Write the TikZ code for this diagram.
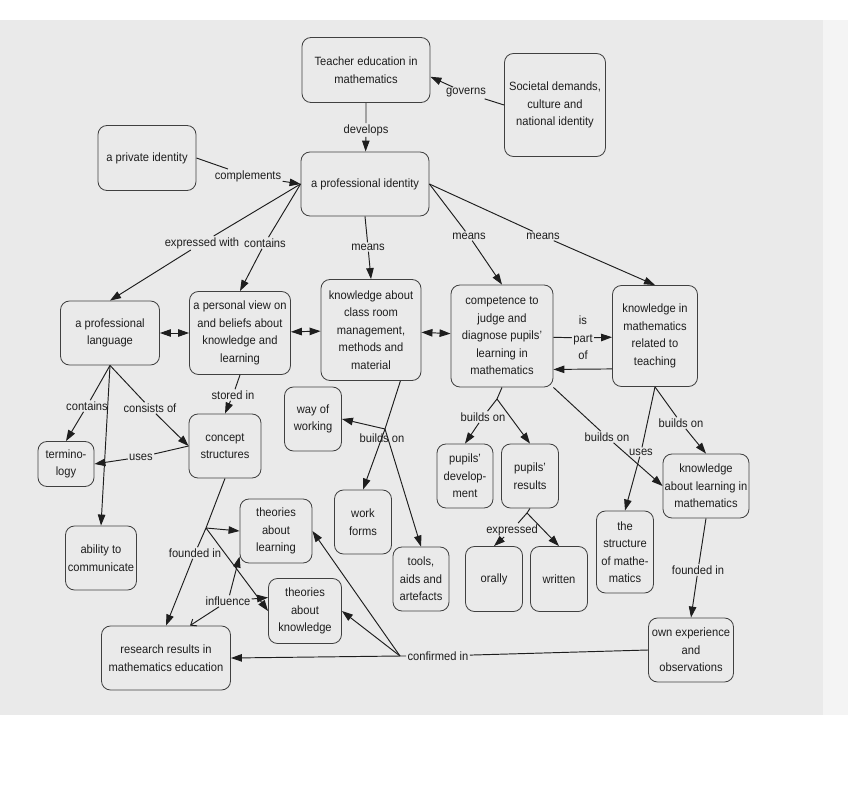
\documentclass[tikz,border=0pt]{standalone}
\usepackage{fontspec}
\setmainfont{Liberation Sans}[FakeStretch=0.93]
\usetikzlibrary{arrows.meta}
\definecolor{Ink}{HTML}{1E1E1E}
\definecolor{Scan}{HTML}{EAEAEA}
\definecolor{ScanEdge}{HTML}{F4F4F4}

\begin{document}
\begin{tikzpicture}[x=1bp,y=-1bp,
  concept/.style={draw=Ink!85,line width=0.85bp,rounded corners=9bp,align=center,inner sep=1bp,font=\fontsize{12bp}{17.5bp}\selectfont,text=Ink},
  linkword/.style={fill=Scan,inner sep=1.2bp,align=center,font=\fontsize{12bp}{17.5bp}\selectfont,text=Ink},
  conn/.style={draw=Ink,line width=0.95bp},
  arrowto/.style={conn,-{Triangle[length=11bp,width=7.5bp]}},
  arrowboth/.style={conn,{Triangle[length=11bp,width=7.5bp]}-{Triangle[length=11bp,width=7.5bp]}}]
\fill[white] (0,0) rectangle (850,787);
\fill[Scan] (0,20) rectangle (823,715);
\fill[ScanEdge] (823,20) rectangle (848,715);
\useasboundingbox (0,0) rectangle (850,787);
\node[concept,minimum width=128bp,minimum height=65bp] (teach) at (366,70) {Teacher education in\\mathematics};
\node[concept,minimum width=101bp,minimum height=103bp] (society) at (555,105) {Societal demands,\\culture and\\national identity};
\node[concept,minimum width=98bp,minimum height=65bp] (private) at (147,158) {a private identity};
\node[concept,minimum width=128bp,minimum height=64bp] (profid) at (365,184) {a professional identity};
\node[concept,minimum width=99bp,minimum height=64bp] (proflang) at (110,333) {a professional\\language};
\node[concept,minimum width=101bp,minimum height=83bp] (persview) at (240,333) {a personal view on\\and beliefs about\\knowledge and\\learning};
\node[concept,minimum width=100bp,minimum height=101bp] (classroom) at (371,330) {knowledge about\\class room\\management,\\methods and\\material};
\node[concept,minimum width=102bp,minimum height=102bp] (compet) at (502,336) {competence to\\judge and\\diagnose pupils'\\learning in\\mathematics};
\node[concept,minimum width=85bp,minimum height=101bp] (mathteach) at (655,336) {knowledge in\\mathematics\\related to\\teaching};
\node[concept,minimum width=56bp,minimum height=45bp] (termin) at (66,464) {termino-\\logy};
\node[concept,minimum width=72bp,minimum height=64bp] (concept) at (225,446) {concept\\structures};
\node[concept,minimum width=57bp,minimum height=64bp] (way) at (313,419) {way of\\working};
\node[concept,minimum width=57bp,minimum height=64bp] (workforms) at (363,522) {work\\forms};
\node[concept,minimum width=56bp,minimum height=64bp] (tools) at (421,579) {tools,\\aids and\\artefacts};
\node[concept,minimum width=56bp,minimum height=64bp] (pupdev) at (465,476) {pupils'\\develop-\\ment};
\node[concept,minimum width=57bp,minimum height=64bp] (pupres) at (530,476) {pupils'\\results};
\node[concept,minimum width=86bp,minimum height=64bp] (learnmath) at (706,486) {knowledge\\about learning in\\mathematics};
\node[concept,minimum width=57bp,minimum height=82bp] (structure) at (625,552) {the\\structure\\of mathe-\\matics};
\node[concept,minimum width=57bp,minimum height=65bp] (orally) at (494,579) {orally};
\node[concept,minimum width=57bp,minimum height=65bp] (written) at (559,579) {written};
\node[concept,minimum width=85bp,minimum height=64bp] (ownexp) at (691,650) {own experience\\and\\observations};
\node[concept,minimum width=71bp,minimum height=64bp] (ability) at (101,558) {ability to\\communicate};
\node[concept,minimum width=72bp,minimum height=64bp] (thlearn) at (276,531) {theories\\about\\learning};
\node[concept,minimum width=73bp,minimum height=65bp] (thknow) at (305,611) {theories\\about\\knowledge};
\node[concept,minimum width=129bp,minimum height=64bp] (research) at (166,658) {research results in\\mathematics education};
% linking words
\node[linkword] (develops) at (366,130) {develops};
\node[linkword] (governs) at (466,93) {governs};
\node[linkword] (complements) at (248,176) {complements};
\node[linkword] (exprwith) at (202,243) {expressed with};
\node[linkword] (contains) at (265,243) {contains};
\node[linkword] (means1) at (368,247) {means};
\node[linkword] (means2) at (469,236) {means};
\node[linkword] (means3) at (543,236) {means};
\node[linkword] (partof) at (583,338) {is\\part\\of};
\node[linkword] (storedin) at (233,395) {stored in};
\node[linkword] (contains2) at (87,406) {contains};
\node[linkword] (consists) at (150,408) {consists of};
\node[linkword] (uses1) at (141,457) {uses};
\node[linkword,fill=none] (buildson1) at (382,438) {builds on};
\node[linkword] (founded1) at (195,553) {founded in};
\node[linkword] (influence) at (228,601) {influence};
\node[linkword] (confirmed) at (438,656) {confirmed in};
\node[linkword] (buildson2) at (483,417) {builds on};
\node[linkword] (buildson3) at (607,437) {builds on};
\node[linkword] (uses2) at (641,452) {uses};
\node[linkword] (buildson4) at (681,423) {builds on};
\node[linkword] (expressed) at (512,530) {expressed};
\node[linkword] (founded2) at (698,570) {founded in};
\coordinate (jclass) at (385,429);
\coordinate (jconcept) at (206,528);
\coordinate (jconfirm) at (400,656);
\coordinate (jcompet) at (497,399);
\coordinate (jresults) at (527,513);
% connectors
\draw[arrowto] (teach) -- (develops) -- (profid);
\draw[arrowto] (society.west) -- (governs) -- (teach.-6);
\draw[arrowto] (private.east) -- (complements) -- (profid.west);
\draw[arrowto] (profid.west) -- (exprwith) -- (proflang.north);
\draw[arrowto] (profid.west) -- (contains) -- (persview.north);
\draw[arrowto] (profid.south) -- (means1) -- (classroom.north);
\draw[arrowto] (profid.east) -- (means2) -- (compet.north);
\draw[arrowto] (profid.east) -- (means3) -- (mathteach.north);
\draw[arrowboth] (proflang) -- (persview);
\draw[arrowboth] (persview) -- (classroom);
\draw[arrowboth] (classroom) -- (compet);
\draw[arrowto] (compet) -- (partof) -- (mathteach);
\draw[arrowto] ([yshift=18bp]mathteach.south west) -- ([yshift=18bp]compet.south east);
\draw[arrowto] (persview.south) -- (storedin) -- (concept.north);
\draw[arrowto] (proflang.south) -- (contains2) -- (termin.north);
\draw[arrowto] (proflang.south) -- (consists) -- (concept.west);
\draw[arrowto] (proflang.south) -- (ability.north);
\draw[arrowto] (concept.west) -- (uses1) -- (termin.east);
\draw[conn] (classroom.-60) -- (jclass);
\draw[arrowto] (jclass) -- (way.east);
\draw[arrowto] (jclass) -- (workforms.north);
\draw[arrowto] (jclass) -- (tools.north);
\draw[conn] (concept.south) -- (jconcept);
\draw[arrowto] (jconcept) -- (founded1) -- (research.north);
\draw[arrowto] (jconcept) -- (thlearn.west);
\draw[arrowto] (jconcept) -- (thknow.west);
\draw[arrowto] (influence) -- (thlearn.-145);
\draw[arrowto] (influence) -- (thknow.160);
\draw[conn,-{Straight Barb[length=5bp,width=8bp]}] (influence) -- ([xshift=24bp]research.north);
\draw[conn] (ownexp.west) -- (confirmed) -- (jconfirm);
\draw[arrowto] (jconfirm) -- (research.east);
\draw[arrowto] (jconfirm) -- (thlearn.east);
\draw[arrowto] (jconfirm) -- (thknow.east);
\draw[arrowto] (mathteach.south) -- (buildson4) -- (learnmath.north);
\draw[arrowto] (mathteach.south) -- (uses2) -- (structure.north);
\draw[arrowto] (compet.south east) -- (buildson3) -- (learnmath.west);
\draw[conn] (compet.south) -- (jcompet);
\draw[arrowto] (jcompet) -- (pupres.north);
\draw[arrowto] (jcompet) -- (buildson2) -- (pupdev.north);
\draw[conn] (pupres.south) -- (jresults);
\draw[arrowto] (jresults) -- (written.north);
\draw[arrowto] (jresults) -- (expressed) -- (orally.north);
\draw[arrowto] (learnmath.south) -- (founded2) -- (ownexp.north);
\end{tikzpicture}
\end{document}
